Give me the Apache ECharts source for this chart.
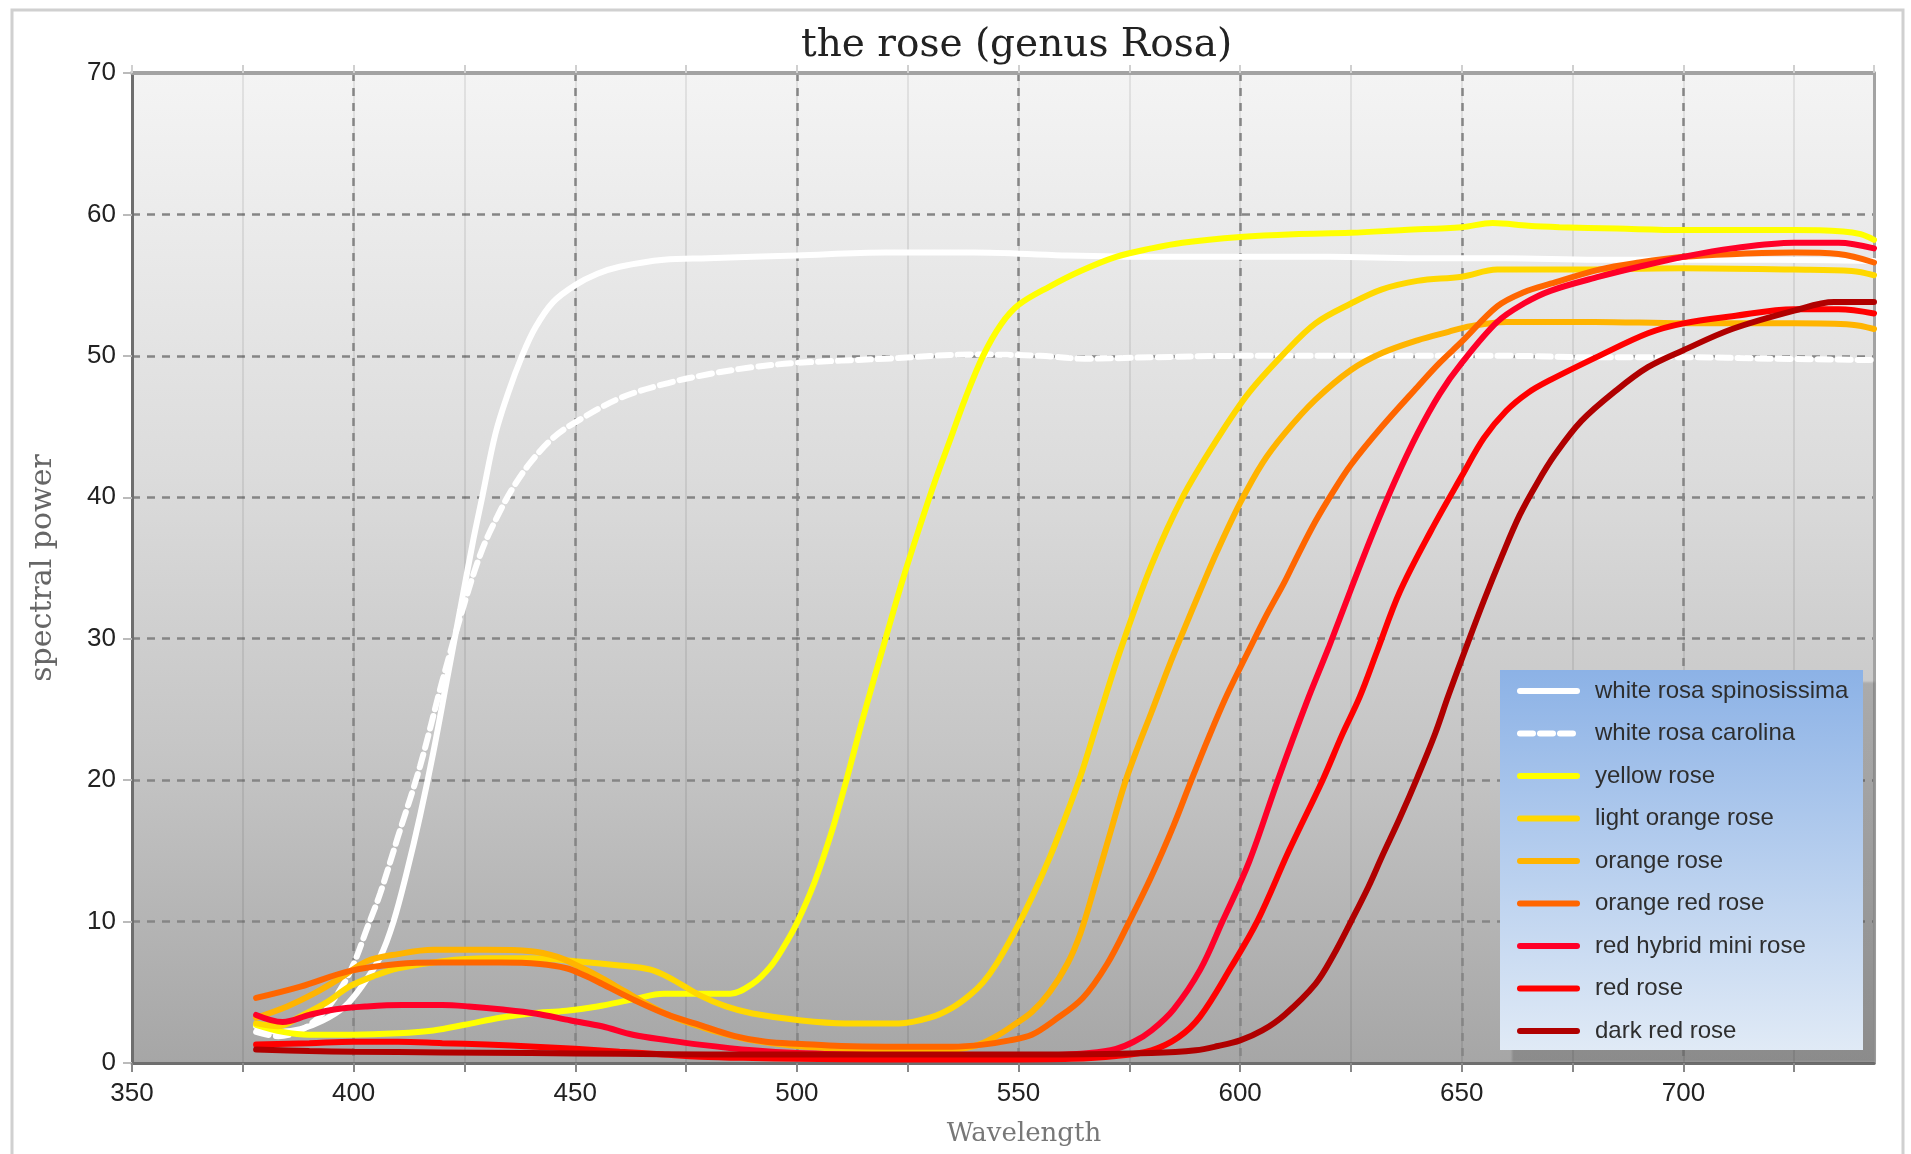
<!DOCTYPE html>
<html>
<head>
<meta charset="utf-8">
<script src="https://cdn.jsdelivr.net/npm/echarts@6/dist/echarts.min.js"></script>
<style>html,body{margin:0;padding:0;background:#fff;}#chart{width:1911px;height:1154px;}</style>
</head>
<body>
<div id="chart"></div>
<script>
const seriesNames = ['white rosa spinosissima','white rosa carolina','yellow rose','light orange rose','orange rose','orange red rose','red hybrid mini rose','red rose','dark red rose'];
const xTicks = [350,400,450,500,550,600,650,700];
const yTicks = [0,10,20,30,40,50,60,70];

const whiteSpinosissima = [[378,2.6],[383,2.2],[388,2.4],[393,3.0],[398,4.0],[402,5.5],[406,7.5],[409,10],[412,13.5],[415,17.5],[418,22],[421,27],[424,32],[427,37],[429,40],[432,44.5],[435,47.5],[438,50],[441,52],[445,53.8],[450,55],[455,55.8],[460,56.3],[470,56.8],[480,56.9],[500,57.1],[520,57.3],[540,57.3],[560,57.1],[580,57.0],[600,57.0],[620,57.0],[640,56.9],[660,56.9],[680,56.8],[700,56.8],[720,56.8],[743,56.7]];
const whiteCarolina = [[378,2.2],[383,1.9],[388,2.3],[393,3.5],[397,5.2],[400,7.0],[403,9.5],[406,12],[410,16],[415,21],[420,27],[425,32.5],[429,36.3],[433,39],[436,40.7],[440,42.5],[445,44.2],[450,45.3],[460,47],[470,48],[480,48.7],[490,49.2],[500,49.5],[520,49.8],[540,50.1],[555,50.0],[565,49.8],[580,49.9],[600,50.0],[620,50.0],[640,50.0],[660,50.0],[680,49.9],[700,49.9],[720,49.8],[743,49.7]];
const yellowRose = [[378,2.7],[384,2.2],[390,2.0],[400,2.0],[410,2.1],[418,2.3],[425,2.7],[433,3.2],[440,3.5],[448,3.7],[455,4.0],[463,4.5],[470,4.9],[478,4.9],[485,4.9],[490,5.6],[494,6.8],[497,8.2],[500,9.9],[504,12.8],[508,16.5],[511,19.8],[515,24.5],[520,30],[524,34.3],[528,38.2],[531,41.0],[534.5,44.0],[538,47.0],[542,50.0],[546,52.2],[550,53.6],[557,54.9],[564,56.0],[572,57.0],[580,57.6],[587,58.0],[600,58.4],[612,58.6],[625,58.7],[637,58.9],[650,59.1],[657,59.4],[665,59.2],[672,59.1],[685,59.0],[700,58.9],[725,58.9],[736,58.8],[740,58.6],[743,58.2]];
const lightOrangeRose = [[378,2.8],[383,2.6],[388,3.3],[394,4.3],[399,5.4],[405,6.2],[410,6.7],[420,7.2],[430,7.4],[440,7.4],[450,7.2],[460,6.9],[467,6.6],[472,5.9],[478,4.8],[484,4.0],[490,3.5],[501,3.0],[511,2.8],[523,2.8],[530,3.2],[535,3.9],[539,4.8],[542,5.7],[545,7.0],[549,9.2],[553,11.7],[557,14.5],[560,16.9],[564,20.3],[568,24.3],[573,29.2],[580,35.2],[587,40],[595,44.2],[602,47.4],[610,50.2],[617,52.3],[625,53.7],[632,54.7],[640,55.3],[650,55.6],[658,56.1],[672,56.1],[700,56.2],[725,56.1],[738,56.0],[743,55.7]];
const orangeRose = [[378,3.2],[385,4.0],[391,4.9],[397,6.0],[403,7.2],[410,7.7],[418,8.0],[430,8.0],[440,7.9],[446,7.5],[451,6.8],[456,6.0],[461,5.1],[466,4.2],[471,3.4],[476,2.8],[482,2.2],[490,1.6],[500,1.2],[510,1.0],[520,0.9],[532,0.9],[540,1.2],[545,1.9],[549,2.7],[553,3.6],[557,5.0],[561,7.0],[564,9.2],[567,12.3],[571,16.6],[574,19.8],[577,22.4],[580,24.8],[584,28.1],[587,30.4],[591,33.4],[595,36.3],[600,39.6],[605,42.4],[610,44.5],[617,46.9],[625,49],[632,50.2],[640,51.1],[647,51.7],[652,52.1],[660,52.4],[680,52.4],[700,52.3],[725,52.3],[738,52.2],[743,51.9]];
const orangeRedRose = [[378,4.6],[388,5.4],[399,6.5],[410,7.0],[420,7.1],[433,7.1],[442,7.0],[448,6.7],[452,6.2],[456,5.6],[463,4.5],[471,3.4],[478,2.7],[486,1.9],[493,1.5],[501,1.35],[510,1.2],[520,1.15],[535,1.15],[542,1.3],[548,1.6],[553,2.0],[558,3.0],[564.5,4.6],[570,7.0],[575,10],[580,13.2],[585,16.8],[589,20],[593,23.1],[597,26],[602,29.2],[606,31.7],[610,34.0],[613,35.9],[617,38.3],[621,40.4],[625,42.3],[632,45],[640,47.8],[645,49.5],[650,51],[658,53.5],[664,54.5],[670,55.1],[681,56.1],[690,56.6],[700,57.0],[712,57.2],[725,57.3],[735,57.2],[743,56.6]];
const redHybridMiniRose = [[378,3.4],[384,2.9],[390,3.4],[396,3.8],[403,4.0],[411,4.1],[420,4.1],[426,4.0],[433,3.8],[441,3.5],[449,3.0],[456,2.6],[463,2.0],[471,1.6],[478,1.3],[490,0.9],[500,0.7],[520,0.55],[540,0.5],[558,0.55],[566,0.7],[572,1.0],[576,1.5],[580,2.3],[585,3.8],[591,6.6],[596,10],[602,14.2],[608.5,20],[615,25.5],[620,29.4],[625,33.5],[630,37.5],[635,41.2],[640,44.5],[645,47.3],[650,49.5],[658,52.4],[664,53.7],[670,54.6],[681,55.6],[690,56.3],[700,57.0],[711,57.6],[725,58.0],[735,58.0],[743,57.6]];
const redRose = [[378,1.3],[390,1.4],[400,1.5],[410,1.5],[420,1.4],[430,1.3],[441,1.15],[450,1.0],[460,0.8],[470,0.6],[478,0.45],[490,0.35],[500,0.3],[520,0.25],[545,0.25],[562,0.3],[572,0.5],[580,0.9],[586,1.8],[591,3.3],[598,6.8],[604,10.1],[611,15],[618.6,20],[623,23.2],[627,25.9],[631,29.2],[636,33.3],[643,37.6],[650,41.5],[655,44.2],[660,46.1],[665,47.4],[670,48.3],[681,50.0],[692,51.6],[700,52.3],[711,52.8],[725,53.3],[735,53.3],[743,53.0]];
const darkRedRose = [[378,0.95],[390,0.85],[400,0.8],[420,0.75],[440,0.7],[460,0.65],[480,0.6],[520,0.6],[560,0.6],[580,0.7],[590,0.9],[595,1.2],[600,1.6],[605,2.3],[610,3.4],[617,5.6],[621,7.6],[625,10],[629,12.5],[632,14.6],[636,17.3],[640,20.2],[644,23.3],[647,26],[651,29.4],[655,32.7],[659,35.8],[663,38.7],[667,41.0],[671,43.0],[677,45.4],[685,47.6],[692,49.2],[700,50.4],[711,51.9],[725,53.2],[734,53.8],[743,53.8]];

const seriesData = [whiteSpinosissima, whiteCarolina, yellowRose, lightOrangeRose, orangeRose, orangeRedRose, redHybridMiniRose, redRose, darkRedRose];
const seriesColors = ['#ffffff','#ffffff','#ffff00','#ffd800','#ffb400','#ff6600','#ff0028','#ff0000','#b00000'];

const chart = echarts.init(document.getElementById('chart'), null, {renderer:'canvas'});
const sansFont = 'Liberation Sans';
const serifFont = 'DejaVu Serif';
const X_MIN = 350, X_MAX = 743;

const series = seriesNames.map((name, i) => ({
  name: name,
  type: 'line',
  data: seriesData[i],
  xAxisIndex: 0,
  yAxisIndex: 0,
  symbol: 'none',
  showSymbol: false,
  smooth: 0.35,
  lineStyle: { color: seriesColors[i], width: 6, type: i === 1 ? [13, 7] : 'solid', cap: 'round' },
  itemStyle: { color: seriesColors[i] },
  emphasis: { disabled: true },
  z: 2 + i * 0.01
}));

const option = {
  animation: false,
  backgroundColor: '#ffffff',
  title: {
    text: 'the rose (genus Rosa)',
    left: 801,
    top: 23,
    padding: 0,
    textStyle: { fontFamily: serifFont, fontSize: 39, fontWeight: 'normal', color: '#222', lineHeight: 46 }
  },
  grid: {
    left: 132, right: 37, top: 73, bottom: 91,
    show: true, borderWidth: 0,
    backgroundColor: new echarts.graphic.LinearGradient(0, 0, 0, 1, [
      { offset: 0, color: '#f4f4f4' },
      { offset: 0.4, color: '#dcdcdc' },
      { offset: 0.7, color: '#c4c4c4' },
      { offset: 1, color: '#a6a6a6' }
    ])
  },
  legend: {
    orient: 'vertical',
    left: 1517, top: 679,
    itemWidth: 57, itemHeight: 14, itemGap: 18.5,
    padding: 0,
    data: seriesNames,
    itemStyle: { opacity: 0 },
    lineStyle: { width: 6 },
    textStyle: { fontFamily: sansFont, fontSize: 24, color: '#2e2e2e', padding: [0, 0, 0, 13] },
    selectedMode: false,
    z: 10
  },
  graphic: [
    { type: 'rect', z: 9, silent: true,
      shape: { x: 1500, y: 670, width: 363, height: 380 },
      style: {
        fill: new echarts.graphic.LinearGradient(0, 0, 0, 1, [
          { offset: 0, color: '#8cb2e6' }, { offset: 1, color: '#e0eaf6' }
        ]),
        shadowColor: 'rgba(0,0,0,0.16)', shadowOffsetX: 12, shadowOffsetY: 12, shadowBlur: 2
      } },
    { type: 'rect', z: 0, silent: true,
      shape: { x: 12, y: 10, width: 1891, height: 1170 },
      style: { fill: 'none', stroke: '#d0d0d0', lineWidth: 3 } }
  ],
  xAxis: [
    { type: 'value', min: X_MIN, max: X_MAX, interval: 25, position: 'bottom',
      name: 'Wavelength', nameLocation: 'middle', nameGap: 58,
      nameTextStyle: { fontFamily: serifFont, fontSize: 26, color: '#777', padding: [0, 0, 0, 42] },
      axisLine: { show: true, onZero: false, lineStyle: { color: '#6e6e6e', width: 3 } },
      axisTick: { show: true, length: 9, lineStyle: { color: '#888', width: 2 } },
      axisLabel: { margin: 18, fontFamily: sansFont, fontSize: 26, color: '#222', showMaxLabel: false,
        formatter: v => (xTicks.indexOf(v) >= 0 ? String(v) : '') },
      splitLine: { show: true, lineStyle: { color: 'rgba(0,0,0,0.08)', width: 2 } }
    },
    { type: 'value', min: X_MIN, max: X_MAX, interval: 25, position: 'top',
      axisLine: { show: true, onZero: false, lineStyle: { color: '#a3a3a3', width: 4 } },
      axisTick: { show: true, length: 8, lineStyle: { color: '#d0d0d0', width: 2 } },
      axisLabel: { show: false }, splitLine: { show: false }
    },
    { type: 'value', min: X_MIN, max: X_MAX, interval: 50, position: 'bottom',
      axisLine: { show: false }, axisTick: { show: false }, axisLabel: { show: false },
      splitLine: { show: true, lineStyle: { color: '#858585', width: 2.5, type: [8, 7] } }
    }
  ],
  yAxis: [
    { type: 'value', min: 0, max: 70, interval: 10, position: 'left',
      name: 'spectral power', nameLocation: 'middle', nameGap: 74, nameRotate: 90,
      nameTextStyle: { fontFamily: serifFont, fontSize: 30, color: '#666' },
      axisLine: { show: true, onZero: false, lineStyle: { color: '#6e6e6e', width: 3 } },
      axisTick: { show: true, length: 9, lineStyle: { color: '#bbb', width: 2 } },
      axisLabel: { margin: 16, fontFamily: sansFont, fontSize: 26, color: '#222',
        formatter: v => (yTicks.indexOf(v) >= 0 ? String(v) : '') },
      splitLine: { show: true, lineStyle: { color: '#858585', width: 2.5, type: [8, 7] } }
    },
    { type: 'value', min: 0, max: 70, interval: 10, position: 'right',
      axisLine: { show: true, onZero: false, lineStyle: { color: '#a3a3a3', width: 3 } },
      axisTick: { show: false }, axisLabel: { show: false }, splitLine: { show: false }
    }
  ],
  series: series
};
chart.setOption(option);
</script>
</body>
</html>
